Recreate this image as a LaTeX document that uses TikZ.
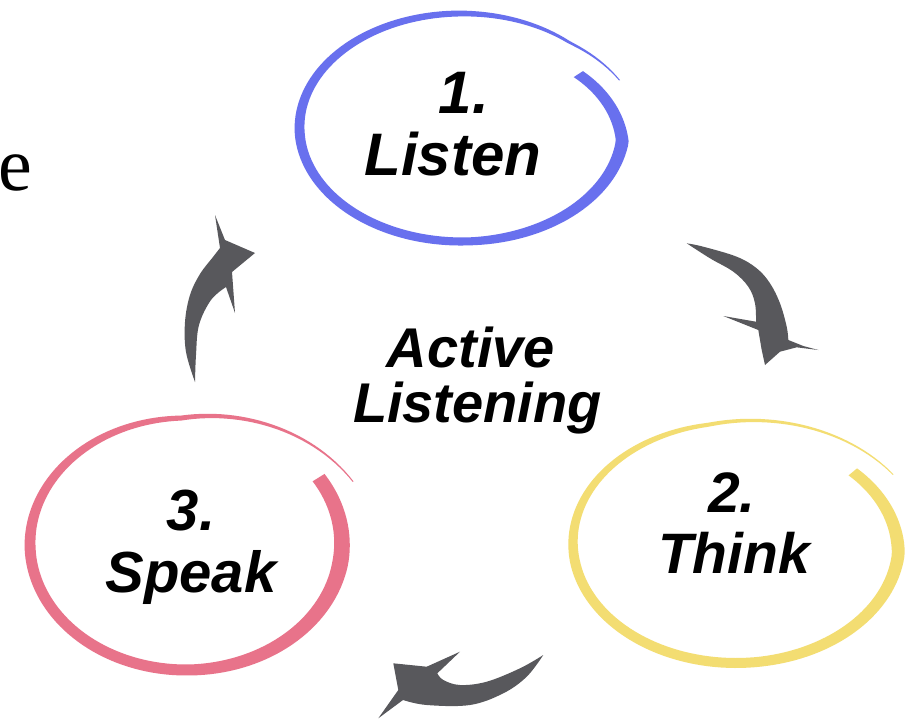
\documentclass[tikz,border=0pt]{standalone}
\usepackage{fontspec}
\newfontfamily\lsans{Liberation Sans}
\newfontfamily\lserif{Liberation Serif}
\definecolor{ringblue}{RGB}{104,112,238}
\definecolor{ringyellow}{RGB}{243,221,114}
\definecolor{ringpink}{RGB}{232,115,138}
\definecolor{swoosh}{RGB}{88,88,92}
\newcommand{\brushring}[7]{%
  \fill[#1] plot[samples=160, domain=0:#7, variable=\t]
    ({#2+(#4*rr(\t)+ww(\t)/2)*cos(#6-\t)}, {#3-(#5*rr(\t)+ww(\t)/2)*sin(#6-\t)})
    -- plot[samples=160, domain=#7:0, variable=\t]
    ({#2+(#4*rr(\t)-ww(\t)/2)*cos(#6-\t)}, {#3-(#5*rr(\t)-ww(\t)/2)*sin(#6-\t)})
    -- cycle;}
\begin{document}
\begin{tikzpicture}[x=1pt,y=-1pt,
  lbl/.style={inner sep=0pt, anchor=base},
  arrowfill/.style={fill=swoosh}]
\useasboundingbox (0,0) rectangle (913,721);
\fill[white] (0,0) rectangle (913,721);

% partial letter at left edge
\node[inner sep=0pt, anchor=base west, font=\lserif\fontsize{76}{76}\selectfont] (e) at (-2,190) {e};

% blue ring (1. Listen)
\begin{scope}[declare function={
  rr(\x)=1-0.14*max(0,1-\x/40)+0.06*max(0,(\x-345)/25);
  ww(\x)=(\x<40)?(11+2*\x/40):((\x<120)?(13-5*(\x-40)/80):((\x<210)?(8+2*(\x-120)/90):((\x<300)?(10-4*(\x-210)/90):(6-5*(\x-300)/70))));}]
  \brushring{ringblue}{461.5}{127.5}{162}{114}{33}{370}
\end{scope}

% yellow ring (2. Think)
\begin{scope}[declare function={
  rr(\x)=1-0.07*max(0,1-\x/45)+0.12*max(0,(\x-300)/69);
  ww(\x)=(\x<40)?(11+2*\x/40):((\x<120)?(13-3*(\x-40)/80):((\x<210)?(10):((\x<300)?(10-6*(\x-210)/90):(4-3*(\x-300)/69))));}]
  \brushring{ringyellow}{736}{543}{163}{120}{39.6}{369}
\end{scope}

% pink ring (3. Speak)
\begin{scope}[declare function={
  rr(\x)=1+0.18*max(0,(\x-300)/67);
  ww(\x)=(\x<40)?(14+2*\x/40):((\x<120)?(16-5*(\x-40)/80):((\x<210)?(11):((\x<300)?(11-6*(\x-210)/90):(5-4*(\x-300)/67))));}]
  \brushring{ringpink}{186}{544}{156}{126}{31.8}{367}
\end{scope}

% texts
\node[lbl, font=\lsans\bfseries\itshape\fontsize{60}{62}\selectfont] (n1) at (464,113) {1.};
\node[lbl, font=\lsans\bfseries\itshape\fontsize{60}{62}\selectfont] (t1) at (453,175) {Listen};
\node[lbl, font=\lsans\bfseries\itshape\fontsize{57}{59}\selectfont] (n2) at (732,512) {2.};
\node[lbl, font=\lsans\bfseries\itshape\fontsize{57}{59}\selectfont] (t2) at (734,573) {Think};
\node[lbl, font=\lsans\bfseries\itshape\fontsize{58}{60}\selectfont] (n3) at (191,530) {3.};
\node[lbl, font=\lsans\bfseries\itshape\fontsize{58}{60}\selectfont] (t3) at (191,592) {Speak};
\node[lbl, font=\lsans\bfseries\itshape\fontsize{56}{58}\selectfont] (c1) at (471,367) {Active};
\node[lbl, font=\lsans\bfseries\itshape\fontsize{56}{58}\selectfont] (c2) at (477.5,422) {Listening};

% swoosh arrow 1: Listen -> Think
\fill[arrowfill] plot[smooth, tension=0.6] coordinates {(686.7,243.3) (703.3,246.7) (736.7,256.7) (756.7,268.3) (770,283.3) (780,303.3) (786.7,326.7) (788.3,340)}
  -- (803.3,346) -- (818.3,350) -- (796.7,347.3) -- (780,351.7) -- (765,365) -- (761.7,350) -- (758.3,330)
  -- (723.3,316) -- (756,321.7)
  -- plot[smooth, tension=0.6] coordinates {(756,321.7) (755,303.3) (748.3,286.7) (733.3,271.7) (710,258.3) (686.7,243.3)} -- cycle;

% swoosh arrow 2: Think -> Speak
\fill[arrowfill] plot[smooth, tension=0.6] coordinates {(543.3,655) (520,668.3) (486.7,681.7) (460,685) (443.3,680) (437.3,673.3)}
  -- (460,651.7) -- (426.7,666.7) -- (393.3,663.3) -- (398.3,690) -- (378.3,718.3) -- (403,700)
  -- plot[smooth, tension=0.6] coordinates {(403,700) (426.7,705) (470,705) (503.3,693.3) (526.7,676.7) (543.3,655)} -- cycle;

% swoosh arrow 3: Speak -> Listen
\fill[arrowfill] plot[smooth, tension=0.6] coordinates {(195,382) (186,352) (185,322) (190,295) (200,274) (213,257) (220,248)}
  -- (215,215) -- (225,240) -- (255,253) -- (232,272) -- (235,313) -- (226,287)
  -- plot[smooth, tension=0.6] coordinates {(226,287) (211,300) (199,325) (196,355) (195,382)} -- cycle;
\end{tikzpicture}
\end{document}
